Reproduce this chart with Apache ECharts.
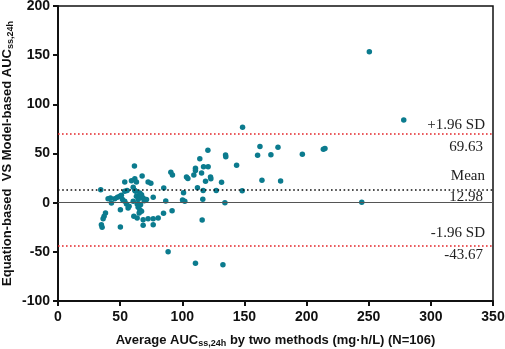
<!DOCTYPE html>
<html>
<head>
<meta charset="utf-8">
<script src="https://cdn.jsdelivr.net/npm/echarts@6/dist/echarts.min.js"></script>
<style>
  html, body { margin: 0; padding: 0; background: #fff; }
  #main { width: 505px; height: 349px; }
</style>
</head>
<body>
<div id="main"></div>
<script>
// x = average of the two methods, y = difference
const pointsHigh = [
  [250.5, 153.6], [278.2, 84.1], [148.5, 76.6], [244.4, 0.3], [213.5, 54.4], [214.8, 55],
  [196.6, 49.2], [177, 56.3], [171.3, 48.8], [162.5, 57], [160.6, 48.1], [164.1, 22.7],
  [179.1, 22], [148.2, 12.2], [143.7, 38], [134.8, 48.5], [135, 46.8], [134.3, 0],
  [131.6, 20.7], [127.3, 12.5], [120.6, 53.2], [114.1, 44.7], [120.8, 36.6], [117.1, 36.6],
  [115.5, 30.2], [122.7, 26.2], [123, 24.2], [118.7, 21.7], [116.8, 12.5], [116.5, 3.4],
  [116, -17.6], [110.6, 35], [110.6, 32.7], [109.3, 28.1], [112.2, 15.2], [103.4, 26.2],
  [104.5, 24.6], [101, 10.2], [100.2, 2.7], [102, 1.4], [90.8, 31], [92.1, 28.1],
  [91.8, -8.1], [86.7, 1.7], [85.1, 14.9], [84.9, -10.8], [88.6, -49.8], [110.6, -61.7],
  [132.7, -63.1]
]
const pointsLow = [
  [34.4, 13.2], [61.5, 37.3], [67.7, 27.1], [53.7, 21], [59.1, 22.4], [61.8, 24.4],
  [63.1, 21], [72.5, 21], [74.7, 19.7], [60.5, 15.6], [61.8, 12.5], [62.5, 11.5],
  [55.6, 12.5], [53.7, 11.5], [47.8, 5.4], [45.7, 4.1], [42.2, 4.7], [40.3, 4.1],
  [43, -0.3], [49.7, 6.4], [51, 7.5], [51.9, 3.1], [53.7, 1.4], [55.1, -1.4],
  [57.2, -3.7], [56.4, -5.4], [50.2, -7.1], [63.1, 6.4], [65.3, 5.4], [64.5, 3.1],
  [65.8, 9.8], [67.2, 8.1], [60.5, 1.4], [68.5, 4.7], [69.3, 2], [71.2, 3.1],
  [76.6, 5.4], [63.7, -1.4], [66.4, -2], [64.5, -4.7], [65.8, -7.1], [67.2, -8.8],
  [65.3, -10.5], [61, -13.9], [63.7, -15.6], [68.5, -17.3], [72.5, -16.3], [76.6, -16.3],
  [80.6, -15.6], [68.5, -23], [76.6, -22.4], [50.2, -24.7], [38.2, -10.5], [37.1, -13.9],
  [36.3, -16.3], [34.9, -22.4], [35.5, -25.1]
]
const meanDiff = 12.98
const upperLoA = 69.63
const lowerLoA = -43.67
const xTicks = { min: 0, max: 350, interval: 50 }
const yTicks = { min: -100, max: 200, interval: 50 }

const serifLabel = {
  fontFamily: 'Liberation Serif',
  fontSize: 15,
  color: '#222',
}
const redDots = { color: '#e3262a', type: [1.6, 2.4], width: 1.7 }
const blackDots = { color: '#111', type: [1.6, 2.6], width: 1.7 }
const hidden = { color: 'rgba(0,0,0,0)', width: 0.1 }

// one visible line with a label above, one invisible twin with the label below
function refLine(y, style, top, bottom, gapTop, gapBottom) {
  return [
    {
      yAxis: y, lineStyle: style,
      label: Object.assign({ show: true, position: 'insideEndTop', formatter: top, distance: [8, gapTop] }, serifLabel),
    },
    {
      yAxis: y + 0.001, lineStyle: hidden,
      label: Object.assign({ show: true, position: 'insideEndBottom', formatter: bottom, distance: [10, gapBottom] }, serifLabel),
    },
  ]
}

const axisFont = { fontFamily: 'Liberation Sans', fontWeight: 'bold', fontSize: 14, color: '#111' }
const nameFont = {
  fontFamily: 'Liberation Sans', fontWeight: 'bold', fontSize: 13, color: '#111',
  rich: {
    sub: { fontFamily: 'Liberation Sans', fontWeight: 'bold', fontSize: 9, color: '#111', verticalAlign: 'bottom', padding: [6, 0, 0, 0] },
  },
}

let myChart = echarts.init(document.getElementById('main'))
let option = {
  animation: false,
  grid: {
    left: 58, right: 12, top: 6, bottom: 48,
    outerBoundsMode: 'none',
    containLabel: false,
    show: true, borderColor: '#111', borderWidth: 1.5,
  },
  xAxis: {
    type: 'value',
    min: xTicks.min, max: xTicks.max, interval: xTicks.interval,
    name: 'Average AUC{sub|ss,24h} by two methods (mg·h/L) (N=106)',
    nameLocation: 'middle',
    nameGap: 32,
    nameMoveOverlap: false,
    nameTextStyle: nameFont,
    axisLine: { onZero: false, lineStyle: { color: '#111', width: 2 } },
    axisTick: { lineStyle: { color: '#111', width: 2 }, length: 5 },
    axisLabel: Object.assign({ margin: 9 }, axisFont),
    splitLine: { show: false },
  },
  yAxis: {
    type: 'value',
    min: yTicks.min, max: yTicks.max, interval: yTicks.interval,
    name: 'Equation-based  VS Model-based AUC{sub|ss,24h}',
    nameLocation: 'middle',
    nameGap: 43,
    nameMoveOverlap: false,
    nameTextStyle: nameFont,
    axisLine: { onZero: false, lineStyle: { color: '#111', width: 2 } },
    axisTick: { lineStyle: { color: '#111', width: 2 }, length: 5 },
    axisLabel: Object.assign({ margin: 8 }, axisFont),
    splitLine: { show: false },
  },
  series: [
    {
      type: 'scatter',
      symbolSize: 5.5,
      itemStyle: { color: '#0b7b8e', opacity: 1 },
      data: pointsHigh.concat(pointsLow),
      markLine: {
        silent: true,
        symbol: 'none',
        data: [
          { yAxis: 0, lineStyle: { color: '#555', type: 'solid', width: 1.2 }, label: { show: false } },
        ]
          .concat(refLine(upperLoA, redDots, '+1.96 SD', upperLoA.toFixed(2), 2, 5))
          .concat(refLine(meanDiff, blackDots, 'Mean', meanDiff.toFixed(2), 6, 0))
          .concat(refLine(lowerLoA, redDots, '-1.96 SD', lowerLoA.toFixed(2), 5, 2)),
      },
    },
  ],
}
myChart.setOption(option)
</script>
</body>
</html>
